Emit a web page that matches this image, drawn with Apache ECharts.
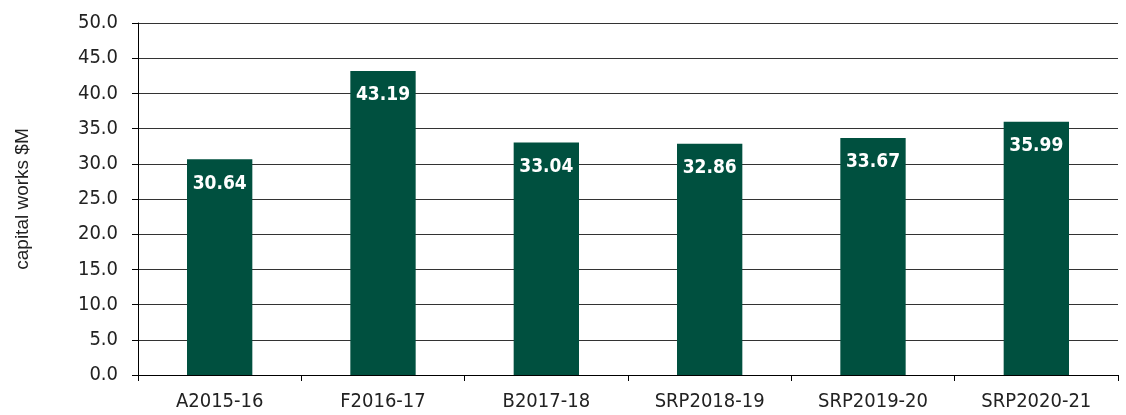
<!DOCTYPE html>
<html lang="en">
<head>
    <meta charset="UTF-8">
    <title>capital works</title>
    <script src="https://cdn.jsdelivr.net/npm/echarts@6/dist/echarts.min.js"></script>
    <style>
        html, body { margin: 0; height: 100%; background: #fff; }
    </style>
</head>
<body>
    <div id="main" style="width: 1126px;height: 415px"></div>

<script>
    var categories = ["A2015-16", "F2016-17", "B2017-18", "SRP2018-19", "SRP2019-20", "SRP2020-21"];
    var values = [30.64, 43.19, 33.04, 32.86, 33.67, 35.99];
    // no Arial Narrow here, condensed DejaVu at a smaller size is closest
    var narrow = '"Liberation Sans Narrow", "Arial Narrow", "DejaVu Sans Condensed", sans-serif';

    var chart = echarts.init(document.getElementById("main"));
    var option = {
        animation: false,
        grid: { left: 138, right: 8, top: 23, bottom: 40 },
        xAxis: {
            type: "category",
            data: categories,
            axisLine: { lineStyle: { color: "#000", width: 1 } },
            axisTick: { show: true, length: 6, lineStyle: { color: "#000" } },
            axisLabel: { color: "#222", fontFamily: narrow, fontSize: 20, margin: 17 }
        },
        yAxis: {
            type: "value",
            min: 0,
            max: 50,
            interval: 5,
            name: "capital works $M",
            nameLocation: "middle",
            nameGap: 106,
            nameTextStyle: { color: "#222", fontFamily: '"Liberation Sans", Arial, sans-serif', fontSize: 19 },
            axisLine: { show: true, lineStyle: { color: "#000" } },
            axisTick: { show: true, length: 6, lineStyle: { color: "#000" } },
            axisLabel: {
                color: "#222", fontFamily: narrow, fontSize: 20, margin: 20,
                formatter: function (v) { return v.toFixed(1); }
            },
            splitLine: { lineStyle: { color: "#333", width: 1 } }
        },
        series: [{
            type: "bar",
            data: values,
            barWidth: "40%",
            itemStyle: { color: "#00503F" },
            label: {
                show: true,
                position: "insideTop",
                distance: 15,
                color: "#fff",
                fontWeight: "bold",
                fontFamily: narrow,
                fontSize: 19,
                formatter: function (p) { return p.value.toFixed(2); }
            }
        }]
    };
    chart.setOption(option);
</script>
</body>
</html>
